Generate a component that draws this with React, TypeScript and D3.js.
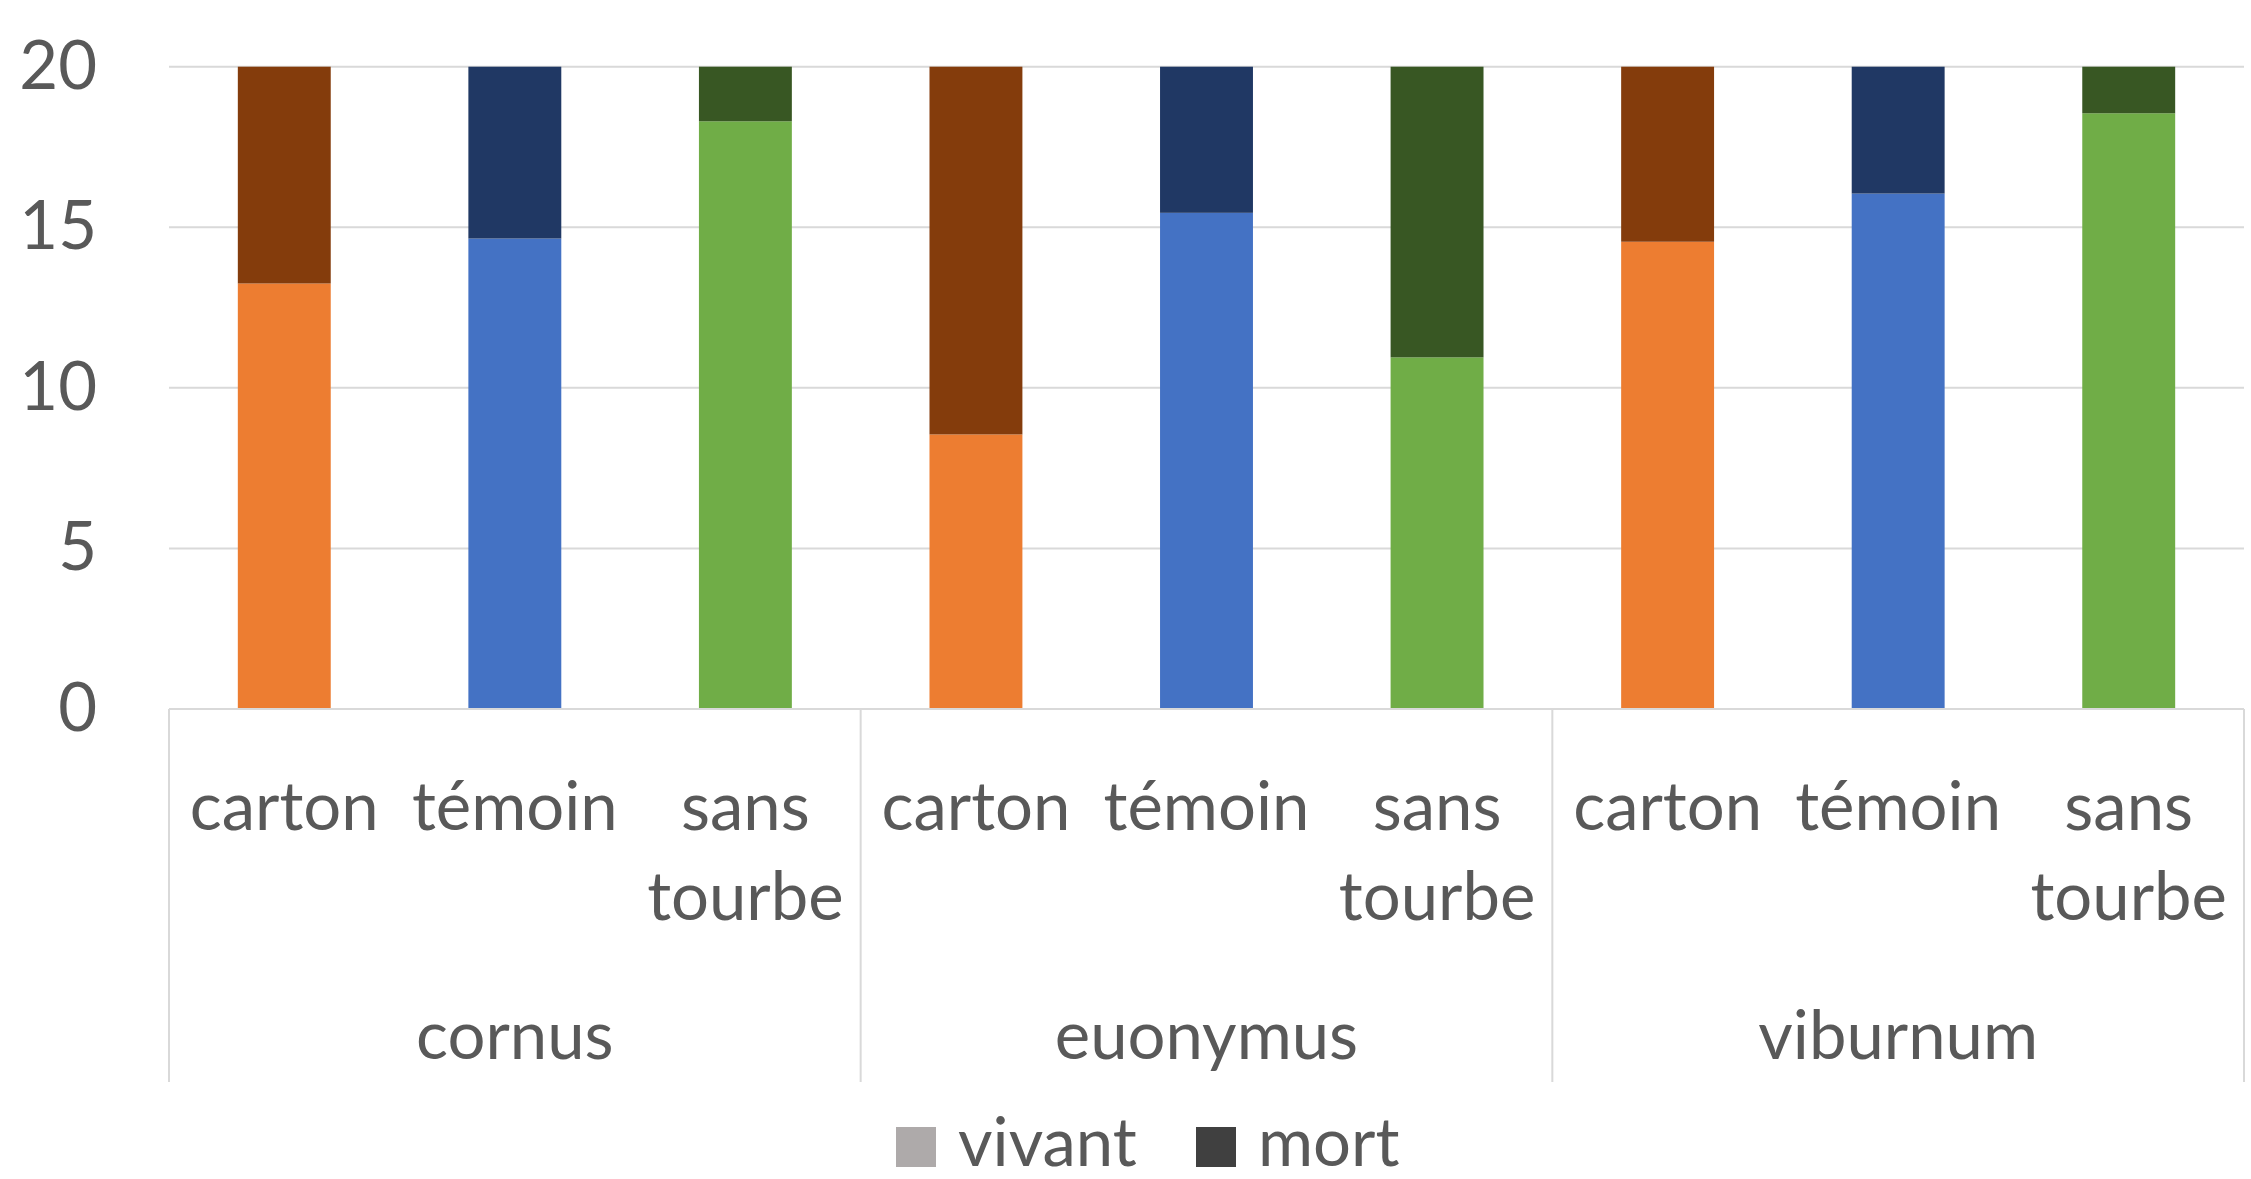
import React from "react";
import * as d3 from "d3";

// species groups and treatments
const species = ["cornus", "euonymus", "viburnum"];
const treatments = ["carton", "témoin", "sans tourbe"];

// living plants per species x treatment, total is 20
const vivant = [
  [13.25, 14.65, 18.3],
  [8.55, 15.45, 10.95],
  [14.55, 16.05, 18.55],
];
const total = 20;
const mort = vivant.map((row) => row.map((v) => total - v));

const yTicks = [0, 5, 10, 15, 20];

const vivantColors = ["#ED7D31", "#4472C4", "#70AD47"];
const mortColors = ["#843C0C", "#203864", "#385723"];
const legendItems = [
  { label: "vivant", color: "#AEAAAA" },
  { label: "mort", color: "#404040" },
];

const W = 2251;
const H = 1179;
const FONT = "Lato, 'Open Sans', sans-serif";
const TEXT = "#595959";
const GRID = "#D9D9D9";

const App: React.FC = () => {
  const left = 169;
  const right = 2244;
  const top = 66.7;
  const bottom = 709;

  const y = d3.scaleLinear().domain([0, total]).range([bottom, top]);

  const xGroup = d3.scaleBand<string>().domain(species).range([left, right]).padding(0);

  // bars take ~40% of each category slot (Excel gap width ~150%)
  const xSub = d3
    .scaleBand<string>()
    .domain(treatments)
    .range([0, xGroup.bandwidth()])
    .paddingInner(0.597)
    .paddingOuter(0.2985);

  const fontSize = 67;

  return (
    <svg
      width={W}
      height={H}
      style={{ position: "absolute", left: 0, top: 0, background: "#fff" }}
      fontFamily={FONT}
    >
      {/* gridlines */}
      {yTicks.map((t) => (
        <line
          key={"g" + t}
          x1={left}
          x2={right}
          y1={y(t)}
          y2={y(t)}
          stroke={GRID}
          strokeWidth={2}
        />
      ))}

      {/* y tick labels */}
      {yTicks.map((t) => (
        <text
          key={"t" + t}
          x={97}
          y={y(t) + 22}
          textAnchor="end"
          fontSize={fontSize}
          fill={TEXT}
        >
          {t}
        </text>
      ))}

      {/* stacked bars */}
      {species.map((s, i) => (
        <g key={s} transform={`translate(${xGroup(s)},0)`}>
          {treatments.map((tr, j) => {
            const x = xSub(tr)!;
            const v = vivant[i][j];
            const m = mort[i][j];
            return (
              <g key={tr}>
                <rect
                  x={x}
                  width={xSub.bandwidth()}
                  y={y(v)}
                  height={y(0) - y(v)}
                  fill={vivantColors[j]}
                />
                <rect
                  x={x}
                  width={xSub.bandwidth()}
                  y={y(v + m)}
                  height={y(v) - y(v + m)}
                  fill={mortColors[j]}
                />
              </g>
            );
          })}
        </g>
      ))}

      {/* category axis with group separators */}
      <line x1={left} x2={right} y1={bottom} y2={bottom} stroke={GRID} strokeWidth={2} />
      {[...species.map((s) => xGroup(s)!), right].map((x, k) => (
        <line key={"sep" + k} x1={x} x2={x} y1={bottom} y2={1082} stroke={GRID} strokeWidth={2} />
      ))}

      {species.map((s) => (
        <g key={"lab" + s} transform={`translate(${xGroup(s)},0)`}>
          {treatments.map((tr) => {
            const cx = xSub(tr)! + xSub.bandwidth() / 2;
            const words = tr === "sans tourbe" ? ["sans", "tourbe"] : [tr];
            return words.map((w, k) => (
              <text
                key={tr + k}
                x={cx}
                y={830 + k * 90}
                textAnchor="middle"
                fontSize={fontSize}
                fill={TEXT}
              >
                {w}
              </text>
            ));
          })}
          <text
            x={xGroup.bandwidth() / 2}
            y={1059}
            textAnchor="middle"
            fontSize={fontSize}
            fill={TEXT}
          >
            {s}
          </text>
        </g>
      ))}

      {/* legend */}
      {legendItems.map((d, i) => {
        const lx = [896, 1196][i];
        return (
          <g key={d.label}>
            <rect x={lx} y={1127} width={40} height={40} fill={d.color} />
            <text x={lx + 62} y={1166} fontSize={fontSize} fill={TEXT}>
              {d.label}
            </text>
          </g>
        );
      })}
    </svg>
  );
};

export default App;
